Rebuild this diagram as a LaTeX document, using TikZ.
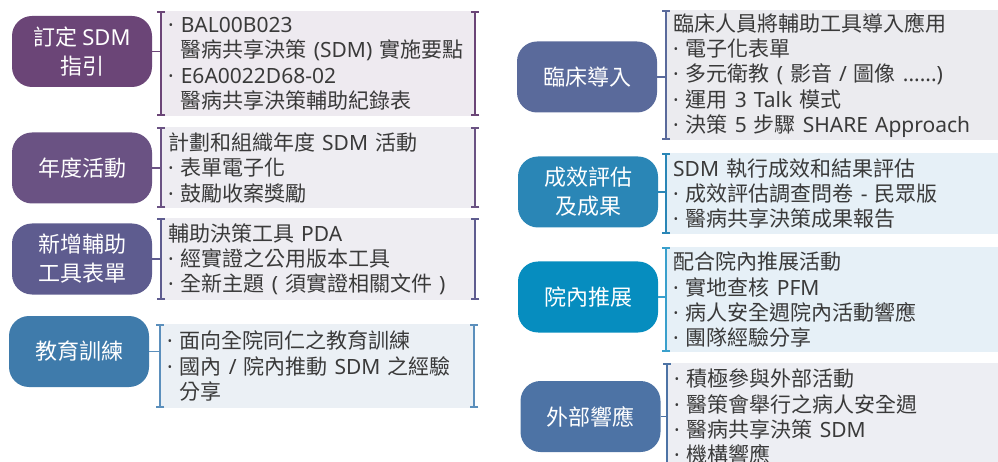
\documentclass[tikz,border=0pt]{standalone}
\usepackage{fontspec}
\setmainfont{Noto Sans CJK TC}
\newfontfamily\lat{Noto Sans}
\newcommand{\en}[1]{{\lat #1}}
\usepackage{tikz}
\usetikzlibrary{positioning}
\usetikzlibrary{arrows.meta}

\definecolor{cuno}{HTML}{6B4577}
\definecolor{cdos}{HTML}{6A5283}
\definecolor{ctres}{HTML}{5E5C8F}
\definecolor{ccuatro}{HTML}{3F7BAB}
\definecolor{ccinco}{HTML}{5A6A9B}
\definecolor{cseis}{HTML}{2A86B6}
\definecolor{csiete}{HTML}{068DBF}
\definecolor{cocho}{HTML}{4D73A5}
\definecolor{luno}{HTML}{EEEAF0}
\definecolor{ldos}{HTML}{EEEDF2}
\definecolor{lcuatro}{HTML}{EBF0F5}
\definecolor{lcinco}{HTML}{EBEBEF}
\definecolor{lseis}{HTML}{E6F0F7}
\definecolor{locho}{HTML}{EDEEF3}
\definecolor{bcuatro}{HTML}{5B8FBC}
\definecolor{bsiete}{HTML}{3AA0CC}
\definecolor{texto}{HTML}{3A3A3A}

\begin{document}
\begin{tikzpicture}[x=1pt,y=-1pt,
	tema/.style={rounded corners=20pt,fill=#1,text=white,minimum width=140pt,minimum height=71pt,align=center,inner sep=0pt,font=\fontsize{22}{29}\selectfont},
	detalle/.style={fill=#1,anchor=north west,inner xsep=7pt,inner ysep=0pt,align=left,text=texto,font=\fontsize{21}{25.3}\selectfont},
	izq/.style={text width=300pt},
	der/.style={text width=330pt},
	corchete/.style={draw=#1,line width=2pt,{Bar[width=8pt]}-{Bar[width=8pt]}},
	enlace/.style={draw=#1,line width=1.5pt}]
				\path[use as bounding box] (0,0) rectangle (998,462);
				\clip (0,0) rectangle (998,462);
				%Nodes
				\coordinate      (p1) 	at 	(161,11);
				\coordinate      (p2) 	at 	(161,127);
				\coordinate      (p3) 	at 	(161,218);
				\coordinate      (p4) 	at 	(160,324);
				\coordinate      (p5) 	at 	(666,10);
				\coordinate      (p6) 	at 	(666,153);
				\coordinate      (p7) 	at 	(666,247);
				\coordinate      (p8) 	at 	(667,363);

				\node[tema=cuno]     (t1) at (82,51.5) {訂定 \en{SDM}\\指引};
				\node[tema=cdos]     (t2) at (82,168) {年度活動};
				\node[tema=ctres]    (t3) at (82,259) {新增輔助\\工具表單};
				\node[tema=ccuatro]  (t4) at (79,351.5) {教育訓練};
				\node[tema=ccinco]   (t5) at (587,77) {臨床導入};
				\node[tema=cseis]    (t6) at (588,192) {成效評估\\及成果};
				\node[tema=csiete]   (t7) at (588,297) {院內推展};
				\node[tema=cocho]    (t8) at (590.5,416.5) {外部響應};

				\node[detalle=luno,izq,minimum height=105pt] (d1) at (p1)
					{\en{· BAL00B023}\\\hphantom{\en{· }}醫病共享決策 \en{(SDM)} 實施要點\\\en{· E6A0022D68-02}\\\hphantom{\en{· }}醫病共享決策輔助紀錄表};
				\node[detalle=ldos,izq,minimum height=81pt] (d2) at (p2)
					{計劃和組織年度 \en{SDM} 活動\\\en{· }表單電子化\\\en{· }鼓勵收案獎勵};
				\node[detalle=ldos,izq,minimum height=82pt] (d3) at (p3)
					{輔助決策工具 \en{PDA}\\\en{· }經實證之公用版本工具\\\en{· }全新主題 \en{(} 須實證相關文件 \en{)}};
				\node[detalle=lcuatro,izq,minimum height=84pt] (d4) at (p4)
					{\en{· }面向全院同仁之教育訓練\\\en{· }國內 \en{/} 院內推動 \en{SDM} 之經驗\\\hphantom{\en{· }}分享};
				\node[detalle=lcinco,der,minimum height=130pt] (d5) at (p5)
					{臨床人員將輔助工具導入應用\\\en{· }電子化表單\\\en{· }多元衛教 \en{(} 影音 \en{/} 圖像 \en{......)}\\\en{· }運用 \en{3 Talk} 模式\\\en{· }決策 \en{5} 步驟 \en{SHARE Approach}};
				\node[detalle=lseis,der,minimum height=81pt] (d6) at (p6)
					{\en{SDM} 執行成效和結果評估\\\en{· }成效評估調查問卷 \en{-} 民眾版\\\en{· }醫病共享決策成果報告};
				\node[detalle=lseis,der,minimum height=105pt] (d7) at (p7)
					{配合院內推展活動\\\en{· }實地查核 \en{PFM}\\\en{· }病人安全週院內活動響應\\\en{· }團隊經驗分享};
				\node[detalle=locho,der,minimum height=107pt] (d8) at (p8)
					{\en{· }積極參與外部活動\\\en{· }醫策會舉行之病人安全週\\\en{· }醫病共享決策 \en{SDM}\\\en{· }機構響應};

				%Lines
				\draw[enlace=cuno] (t1.east) -- (t1.east -| d1.west);
				\draw[enlace=cdos] (t2.east) -- (t2.east -| d2.west);
				\draw[enlace=ctres] (t3.east) -- (t3.east -| d3.west);
				\draw[enlace=bcuatro] (t4.east) -- (t4.east -| d4.west);
				\draw[enlace=ccinco] (t5.east) -- (t5.east -| d5.west);
				\draw[enlace=cseis] (t6.east) -- (t6.east -| d6.west);
				\draw[enlace=bsiete] (t7.east) -- (t7.east -| d7.west);
				\draw[enlace=cocho] (t8.east) -- (t8.east -| d8.west);

				\draw[corchete=cuno] (d1.north west) -- (d1.south west);
				\draw[corchete=cuno] (d1.north east) -- (d1.south east);
				\draw[corchete=cdos] (d2.north west) -- (d2.south west);
				\draw[corchete=cdos] (d2.north east) -- (d2.south east);
				\draw[corchete=ctres] (d3.north west) -- (d3.south west);
				\draw[corchete=ctres] (d3.north east) -- (d3.south east);
				\draw[corchete=bcuatro] (d4.north west) -- (d4.south west);
				\draw[corchete=bcuatro] (d4.north east) -- (d4.south east);
				\draw[corchete=ccinco] (d5.north west) -- (d5.south west);
				\draw[corchete=cseis] (d6.north west) -- (d6.south west);
				\draw[corchete=bsiete] (d7.north west) -- (d7.south west);
				\draw[corchete=cocho] (d8.north west) -- (d8.south west);
\end{tikzpicture}
\end{document}
